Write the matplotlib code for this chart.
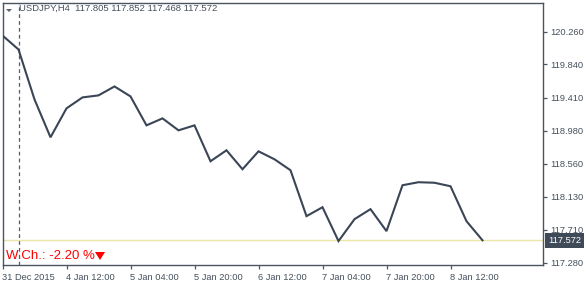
import matplotlib
matplotlib.use("Agg")
import matplotlib.pyplot as plt
from matplotlib.patches import Polygon

# Data
closes = [120.209, 120.029, 119.386, 118.898, 119.271, 119.412, 119.438, 119.553,
          119.425, 119.052, 119.142, 118.988, 119.052, 118.590, 118.731, 118.487,
          118.718, 118.615, 118.474, 117.883, 117.998, 117.562, 117.844, 117.973,
          117.690, 118.281, 118.320, 118.313, 118.268, 117.818, 117.572]
x_tick_pos = [0, 4, 8, 12, 16, 20, 24, 28]
x_tick_labels = ["31 Dec 2015", "4 Jan 12:00", "5 Jan 04:00", "5 Jan 20:00",
                 "6 Jan 12:00", "7 Jan 04:00", "7 Jan 20:00", "8 Jan 12:00"]
y_ticks = [120.260, 119.840, 119.410, 118.980, 118.560, 118.130, 117.710, 117.280]
last_price = 117.572
header = "USDJPY,H4  117.805 117.852 117.468 117.572"
wch = "W.Ch.: -2.20 %"
cursor_bar = 1

plt.rcParams['font.family'] = ['Liberation Sans', 'DejaVu Sans']

W, H = 586, 287
fig = plt.figure(figsize=(W / 100, H / 100), dpi=100)
left, right, top, bottom = 2.5, 543, 2.5, 265
ax = fig.add_axes([left / W, (H - bottom) / H, (right - left) / W, (bottom - top) / H])

axis_col = "#4a5562"
text_col = "#46505c"
line_col = "#3a4556"

xs = list(range(len(closes)))
ax.plot(xs, closes, color=line_col, lw=1.5, solid_joinstyle="miter", zorder=3)

ax.axhline(last_price, color="#ece5a8", lw=1.0, zorder=1)
ax.axvline(cursor_bar, color="#555f6b", lw=0.9, ls=(0, (3, 2.5)), zorder=2)

ax.set_xlim(0, (right - left) / 16.0)
ax.set_ylim(117.254, 120.634)

ax.yaxis.tick_right()
ax.set_yticks(y_ticks)
ax.set_yticklabels([f"{v:.3f}" for v in y_ticks])
ax.set_xticks(x_tick_pos)
ax.set_xticklabels(x_tick_labels, ha="left")
ax.tick_params(axis="both", colors=axis_col, labelcolor=text_col, labelsize=6.7,
               length=3, width=0.9, direction="out")
ax.tick_params(axis="x", pad=3)
ax.tick_params(axis="y", pad=2)
for s in ax.spines.values():
    s.set_color(axis_col)
    s.set_linewidth(1.0)

# last price tag
ax.annotate(f"{last_price:.3f}", xy=(1, last_price), xycoords=("axes fraction", "data"),
            xytext=(3.5, 0), textcoords="offset points", ha="left", va="center",
            fontsize=6.7, color="white",
            bbox=dict(boxstyle="square,pad=0.3", fc="#3f4a58", ec="none"))

def px(x, y):
    return (x / W, 1 - y / H)

# header
fig.add_artist(Polygon([px(6, 9), px(12, 9), px(9, 12)], closed=True,
                       transform=fig.transFigure, fc="#5a6470", ec="none"))
fig.text(19 / W, 1 - 8.5 / H, header, fontsize=6.8, color=text_col, ha="left", va="center")

# weekly change
fig.text(6 / W, 1 - 256 / H, wch, fontsize=9.5, color="#ff0000", ha="left", va="center")
fig.add_artist(Polygon([px(95, 252), px(105, 252), px(100, 260)], closed=True,
                       transform=fig.transFigure, fc="#ff0000", ec="none"))

fig.savefig("out.png", dpi=100, facecolor="white")
